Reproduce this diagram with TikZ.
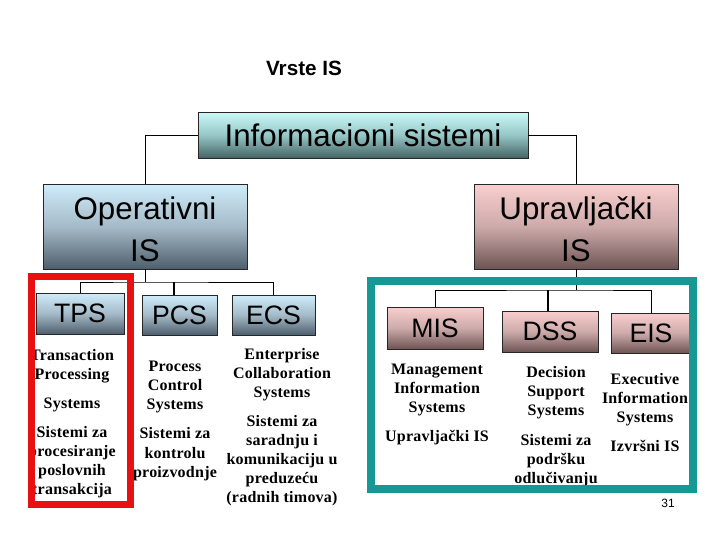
\documentclass[tikz,border=0pt]{standalone}
\usepackage{fontspec}
\setmainfont{Liberation Serif}
\setsansfont{Liberation Sans}
\newfontfamily\descfont{Liberation Serif}[LetterSpace=1.5]
\definecolor{infoT}{RGB}{202,250,250}
\definecolor{infoM}{RGB}{150,198,198}
\definecolor{infoB}{RGB}{70,100,100}
\definecolor{blueT}{RGB}{206,236,250}
\definecolor{blueM}{RGB}{165,186,200}
\definecolor{blueB}{RGB}{78,94,108}
\definecolor{pinkT}{RGB}{250,206,206}
\definecolor{pinkM}{RGB}{205,170,170}
\definecolor{pinkB}{RGB}{110,84,84}
\definecolor{frameRed}{RGB}{232,16,16}
\definecolor{frameTeal}{RGB}{22,153,148}
\begin{document}
\begin{tikzpicture}[x=0.75pt,y=-0.75pt,
 box/.style={draw=black!85, line width=0.6pt, font=\sffamily\fontsize{20}{22}\selectfont, inner sep=0pt},
 bluebox/.style={box, top color=blueT, bottom color=blueB, middle color=blueM},
 pinkbox/.style={box, top color=pinkT, bottom color=pinkB, middle color=pinkM},
 conn/.style={draw=black, line width=0.75pt},
 desc/.style={font=\descfont\bfseries\fontsize{12}{14}\selectfont, inner sep=0pt, text height=8pt, text depth=2.5pt},
 hiframe/.style={line width=5.4pt},
]
\useasboundingbox (0,0) rectangle (720,540);

% title and page number
\node[font=\sffamily\bfseries\fontsize{15.5}{18}\selectfont] (title) at (304,68) {Vrste IS};
\node[font=\sffamily\fontsize{9}{10}\selectfont] (num) at (668,503) {31};

% main boxes
\node[box, top color=infoT, bottom color=infoB, middle color=infoM, minimum width=247.5pt, minimum height=34.5pt,
      font=\sffamily\fontsize{23.5}{26}\selectfont] (info) at (363,135) {Informacioni sistemi};
\node[bluebox, minimum width=153pt, minimum height=63.75pt, align=center,
      font=\sffamily\fontsize{23.5}{31}\selectfont] (oper) at (145,226.5) {\rule{0pt}{21pt}Operativni\\IS};
\node[pinkbox, minimum width=153pt, minimum height=63.75pt, align=center,
      font=\sffamily\fontsize{23.5}{31}\selectfont] (uprav) at (576,226.5) {\rule{0pt}{21pt}Upravljački\\IS};

% sub boxes
\node[bluebox, minimum width=66pt, minimum height=30.75pt] (tps) at (80,313.5) {TPS};
\node[bluebox, minimum width=56.25pt, minimum height=30pt] (pcs) at (179.5,315) {PCS};
\node[bluebox, minimum width=62.25pt, minimum height=30pt] (ecs) at (273.5,315) {ECS};
\node[pinkbox, minimum width=72pt, minimum height=31.5pt] (mis) at (435,328) {MIS};
\node[pinkbox, minimum width=72pt, minimum height=30.75pt] (dss) at (550,331.5) {DSS};
\node[pinkbox, minimum width=60pt, minimum height=30pt] (eis) at (651,333) {EIS};

% connectors
\draw[conn] (info.west) -| (oper.north);
\draw[conn] (info.east) -| (uprav.north);
\coordinate (ob) at (145,282);
\draw[conn] (oper.south) -- (ob);
\draw[conn] (tps.north) |- (ob) -| (ecs.north);
\coordinate (pcstop) at ([xshift=-4.5pt]pcs.north);
\draw[conn, line width=1.5pt] (pcstop) -- (pcstop |- ob);
\coordinate (ub) at (576,290);
\draw[conn] (uprav.south) -- (ub);
\draw[conn] (mis.north) |- (ub) -| (eis.north);
\coordinate (dsstop) at ([xshift=-1.5pt]dss.north);
\draw[conn, line width=1.5pt] (dsstop) -- (dsstop |- ub);

% descriptions
\foreach \y/\t [count=\i] in {357/Transaction, 376/Processing, 405/Systems, 434/Sistemi za,
   453/procesiranje, 472/poslovnih, 491/transakcija}
  \node[desc] (tpsd\i) at (72,\y) {\t};
\foreach \y/\t [count=\i] in {368/Process, 387/Control, 406/Systems, 435/Sistemi za,
   455/kontrolu, 474/proizvodnje}
  \node[desc] (pcsd\i) at (175,\y) {\t};
\foreach \y/\t [count=\i] in {356/Enterprise, 375/Collaboration, 394/Systems, 423/Sistemi za,
   442/saradnju i, 461/komunikaciju u, 480/preduzeću, 499/{(radnih timova)}}
  \node[desc] (ecsd\i) at (282,\y) {\t};
\foreach \y/\t [count=\i] in {371/Management, 390/Information, 409/Systems, 438/Upravljački IS}
  \node[desc] (misd\i) at (437,\y) {\t};
\foreach \y/\t [count=\i] in {374/Decision, 393/Support, 412/Systems, 442/Sistemi za,
   461/podršku, 480/odlučivanju}
  \node[desc] (dssd\i) at (556,\y) {\t};
\foreach \y/\t [count=\i] in {381/Executive, 400/Information, 419/Systems, 448/Izvršni IS}
  \node[desc] (eisd\i) at (645,\y) {\t};

% highlight frames
\draw[hiframe, draw=frameRed] (31.5,276.5) rectangle (130.5,504.5);
\draw[hiframe, draw=frameTeal] (371,281) rectangle (693,489);
\end{tikzpicture}
\end{document}
